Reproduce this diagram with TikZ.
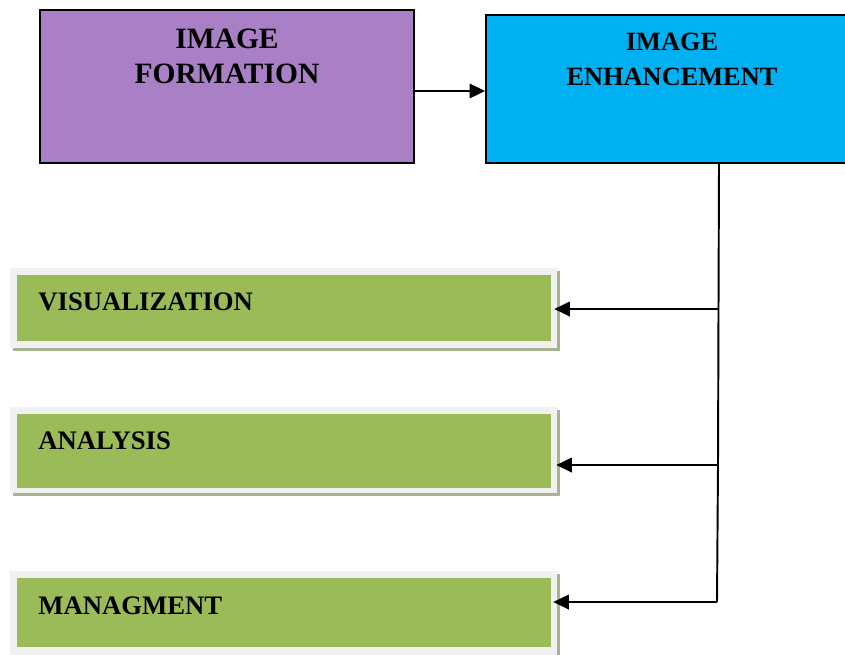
\documentclass[tikz,border=0pt]{standalone}
\usepackage{fontspec}
\setmainfont{Liberation Serif}
\usetikzlibrary{arrows.meta,shadows}

\definecolor{formpurple}{HTML}{A980C5}
\definecolor{enhcyan}{HTML}{00B0F0}
\definecolor{leafgreen}{HTML}{9BBB59}
\definecolor{framegray}{HTML}{F1F1F1}
\definecolor{shadowgreen}{HTML}{A6B494}

\tikzset{
  topbox/.style={draw=black, line width=1.1pt, inner sep=0pt},
  outbox/.style={fill=framegray, inner sep=0pt, minimum width=10.94cm, minimum height=1.6cm,
    drop shadow={shadow xshift=0.06cm, shadow yshift=-0.06cm, fill=shadowgreen, opacity=1}},
  greenbox/.style={fill=leafgreen, inner sep=0pt, minimum width=10.68cm, minimum height=1.32cm},
  title/.style={font=\bfseries\fontsize{15}{20}\selectfont, align=center, inner sep=0pt},
  tag/.style={font=\bfseries\fontsize{15.2}{20}\selectfont, anchor=west, inner sep=0pt},
  link/.style={line width=1.1pt, -{Triangle[length=0.31cm,width=0.29cm]}}
}

\begin{document}
\begin{tikzpicture}[x=0.02cm, y=-0.02cm]
  \useasboundingbox (0,0) rectangle (845,654);
  % ---- top row ----
  \node[topbox, fill=formpurple, minimum width=7.48cm, minimum height=3.06cm] (form) at (227,86.5) {};
  \node[title, font=\bfseries\fontsize{16.8}{20}\selectfont] (formtxt) at (227,56) {IMAGE\\FORMATION};
  \node[topbox, fill=enhcyan, minimum width=7.3cm, minimum height=2.96cm] (enh) at (668.5,89) {};
  \node[title] (enhtxt) at (672,59) {IMAGE\\ENHANCEMENT};
  \draw[link] ([yshift=-0.09cm]form.east) -- ([yshift=-0.09cm]form.east -| enh.west);
  % ---- green boxes ----
  \node[outbox] (visframe) at (283.5,308) {};
  \node[greenbox] (vis) at (284,308) {};
  \node[tag] (vistxt) at (38,302) {VISUALIZATION};
  \node[outbox, minimum height=1.72cm] (anaframe) at (283.5,450) {};
  \node[greenbox, minimum height=1.48cm] (ana) at (284,451) {};
  \node[tag] (anatxt) at (38,441) {ANALYSIS};
  \node[outbox, minimum height=1.7cm] (manframe) at (283.5,613) {};
  \node[greenbox, minimum height=1.38cm] (man) at (284,612.5) {};
  \node[tag] (mantxt) at (38,606) {MANAGMENT};
  % ---- spine with the three branches ----
  \coordinate (top) at (719,163);
  \coordinate (j1) at (718.5,309);
  \coordinate (j2) at (718,465);
  \coordinate (j3) at (717,602);
  \draw[line width=1.1pt] (top) -- (j1) -- (j2) -- (j3);
  \draw[link] (j1) -- ([xshift=-0.06cm]visframe.east |- j1);
  \draw[link] (j2) -- ([xshift=-0.02cm]anaframe.east |- j2);
  \draw[link] (j3) -- ([xshift=-0.08cm]manframe.east |- j3);
\end{tikzpicture}
\end{document}
